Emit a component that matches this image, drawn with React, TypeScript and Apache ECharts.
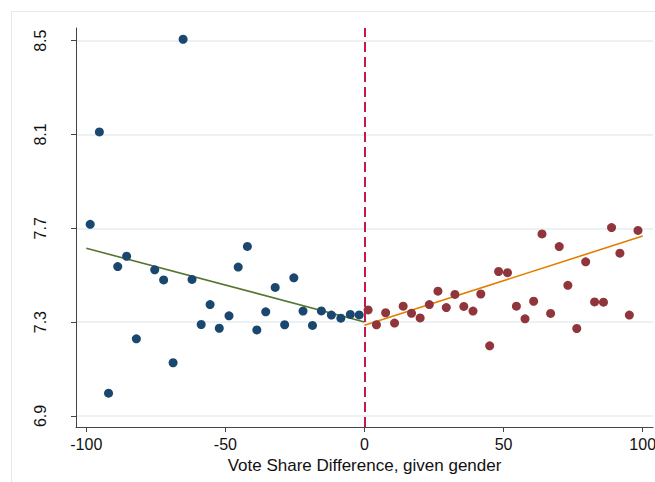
import React, { useEffect, useRef } from "react";
import * as echarts from "echarts";

// Binned means, left of the threshold (losing side)
const leftX = [-98.6, -95.3, -92, -88.7, -85.5, -82, -75.4, -72.2, -68.8, -65.2, -62, -58.7, -55.5, -52.2, -48.7, -45.4, -42.1, -38.7, -35.5, -32.1, -28.7, -25.4, -22.1, -18.7, -15.5, -11.9, -8.5, -5.1, -1.9];
const leftY = [7.717, 8.111, 6.997, 7.537, 7.581, 7.229, 7.523, 7.48, 7.127, 8.506, 7.482, 7.29, 7.375, 7.274, 7.327, 7.535, 7.623, 7.267, 7.344, 7.448, 7.289, 7.489, 7.347, 7.286, 7.348, 7.33, 7.317, 7.333, 7.331];

// Binned means, right of the threshold (winning side)
const rightX = [1.3, 4.3, 7.6, 10.8, 13.9, 16.9, 20, 23.3, 26.4, 29.4, 32.5, 35.7, 39, 41.8, 45, 48.2, 51.4, 54.6, 57.7, 60.8, 63.8, 66.9, 70, 73.1, 76.3, 79.5, 82.7, 85.9, 88.8, 91.8, 95.2, 98.3];
const rightY = [7.352, 7.289, 7.34, 7.296, 7.368, 7.338, 7.318, 7.375, 7.432, 7.362, 7.418, 7.367, 7.347, 7.42, 7.199, 7.516, 7.511, 7.368, 7.314, 7.389, 7.676, 7.337, 7.622, 7.457, 7.273, 7.557, 7.386, 7.385, 7.703, 7.594, 7.33, 7.691];

// Linear fits on each side
const leftFitX = [-100, 0];
const leftFitY = [7.615, 7.301];
const rightFitX = [0, 100];
const rightFitY = [7.287, 7.667];

// Axis ticks
const xTicks = [-100, -50, 0, 50, 100];
const yTicks = [6.9, 7.3, 7.7, 8.1, 8.5];

const xTitle = "Vote Share Difference, given gender";
const threshold = 0;

const FONT = "'Liberation Sans', Arial, sans-serif";
const W = 655;
const H = 482;

const zip = (xs: number[], ys: number[]) => xs.map((x, i) => [x, ys[i]]);

export default function App() {
  const ref = useRef<HTMLDivElement>(null);

  useEffect(() => {
    if (!ref.current) return;
    const chart = echarts.init(ref.current, undefined, { renderer: "svg", width: W, height: H });
    chart.setOption({
      animation: false,
      backgroundColor: "#ffffff",
      textStyle: { fontFamily: FONT },
      graphic: [
        {
          type: "rect",
          z: -10,
          silent: true,
          shape: { x: 11.5, y: 11.5, width: 700, height: 520 },
          style: { fill: "none", stroke: "#e1eaed", lineWidth: 1 },
        },
      ],
      grid: {
        left: 76,
        right: 2,
        top: 28,
        bottom: 55,
        containLabel: false,
        outerBoundsMode: "none",
      },
      xAxis: {
        type: "value",
        min: -103.7,
        max: 103.7,
        name: xTitle,
        nameLocation: "middle",
        nameGap: 25,
        nameTextStyle: { fontSize: 17, color: "#111", fontFamily: FONT },
        axisLine: { show: true, onZero: false, lineStyle: { color: "#444", width: 1 } },
        axisTick: { show: true, length: 5, customValues: xTicks, lineStyle: { color: "#444" } },
        axisLabel: {
          customValues: xTicks,
          fontSize: 16,
          color: "#111",
          margin: 9,
          fontFamily: FONT,
          hideOverlap: false,
        },
        splitLine: { show: false },
      },
      yAxis: {
        type: "value",
        min: 6.853,
        max: 8.554,
        axisLine: { show: true, onZero: false, lineStyle: { color: "#444", width: 1 } },
        axisTick: { show: true, length: 5, customValues: yTicks, lineStyle: { color: "#444" } },
        axisLabel: {
          customValues: yTicks,
          rotate: 90,
          fontSize: 16,
          color: "#111",
          margin: 28,
          fontFamily: FONT,
          formatter: (v: number) => v.toFixed(1),
        },
        splitLine: { show: true, lineStyle: { color: "#e6eef0", width: 1.5 } },
      },
      series: [
        {
          type: "line",
          data: zip(leftFitX, leftFitY),
          showSymbol: false,
          symbol: "none",
          lineStyle: { color: "#55752f", width: 1.6 },
          z: 3,
          markLine: {
            silent: true,
            symbol: "none",
            label: { show: false },
            lineStyle: { color: "#c41a4a", width: 2, type: [10, 5] },
            data: [{ xAxis: threshold }],
          },
        },
        {
          type: "line",
          data: zip(rightFitX, rightFitY),
          showSymbol: false,
          symbol: "none",
          lineStyle: { color: "#e37e00", width: 1.6 },
          z: 3,
        },
        {
          type: "scatter",
          data: zip(leftX, leftY),
          symbol: "circle",
          symbolSize: 9,
          itemStyle: { color: "#1a476f", opacity: 1 },
          z: 4,
        },
        {
          type: "scatter",
          data: zip(rightX, rightY),
          symbol: "circle",
          symbolSize: 9,
          itemStyle: { color: "#90353b", opacity: 1 },
          z: 4,
        },
      ],
    });
    return () => chart.dispose();
  }, []);

  return (
    <div
      ref={ref}
      style={{ position: "fixed", left: 0, top: 0, width: W, height: H, background: "#fff" }}
    />
  );
}
